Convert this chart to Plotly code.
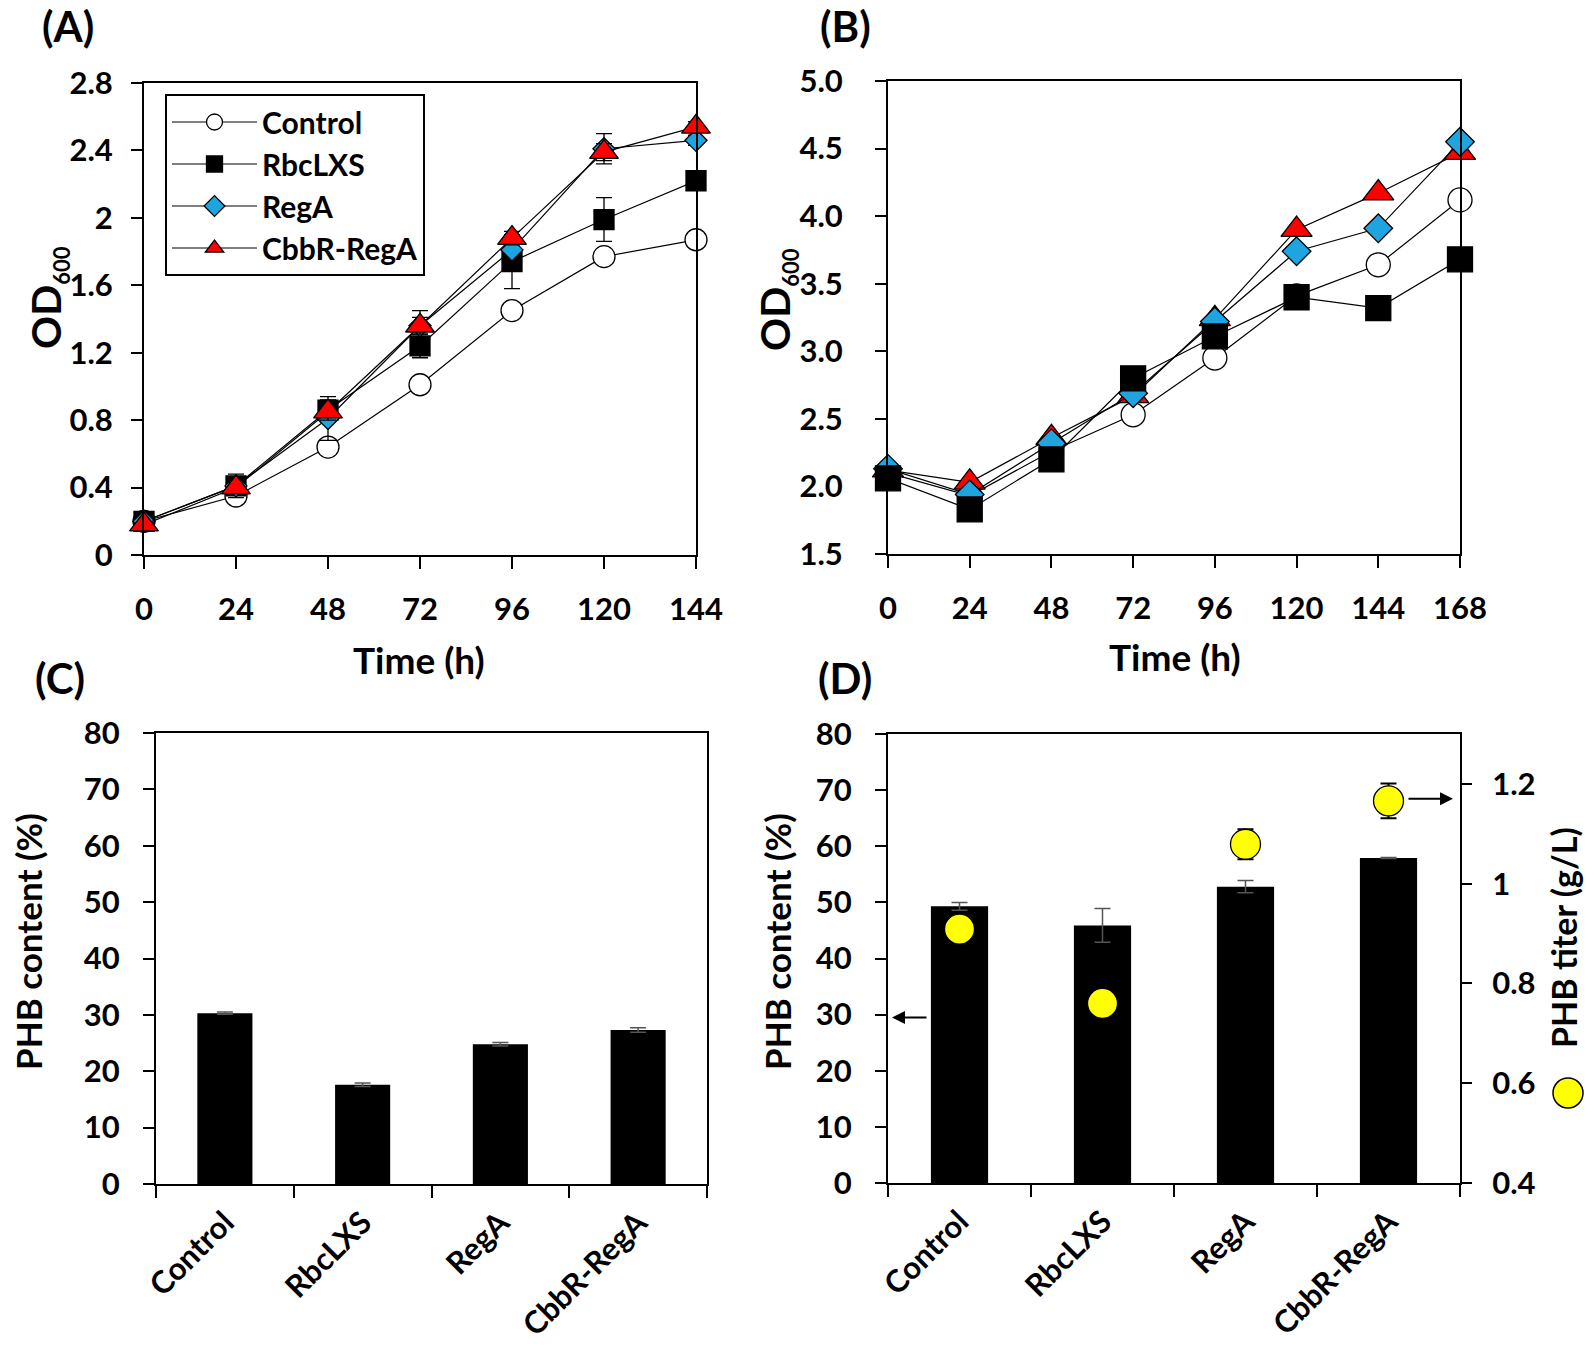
import plotly.graph_objects as go

W, H = 1594, 1364
FONT = "Lato"

# ---------------- data ----------------
time_a = [0, 24, 48, 72, 96, 120, 144]
a_control = [0.20, 0.35, 0.64, 1.01, 1.45, 1.77, 1.87]
a_control_err = [0.01, 0.02, 0.02, 0.02, 0.03, 0.03, 0.02]
a_rbclxs = [0.20, 0.41, 0.86, 1.24, 1.74, 1.99, 2.22]
a_rbclxs_err = [0.01, 0.03, 0.06, 0.07, 0.16, 0.13, 0.03]
a_rega = [0.20, 0.41, 0.81, 1.36, 1.81, 2.41, 2.46]
a_rega_err = [0.01, 0.07, 0.13, 0.09, 0.05, 0.09, 0.03]
a_cbbr = [0.18, 0.40, 0.85, 1.36, 1.88, 2.39, 2.54]
a_cbbr_err = [0.01, 0.03, 0.05, 0.05, 0.04, 0.05, 0.03]

time_b = [0, 24, 48, 72, 96, 120, 144, 168]
b_control = [2.10, 1.93, 2.26, 2.53, 2.95, 3.41, 3.64, 4.12]
b_rbclxs = [2.06, 1.83, 2.20, 2.80, 3.11, 3.40, 3.32, 3.68]
b_rega = [2.13, 1.94, 2.32, 2.69, 3.22, 3.74, 3.91, 4.55]
b_cbbr = [2.12, 2.03, 2.36, 2.67, 3.24, 3.90, 4.17, 4.47]

strains = ["Control", "RbcLXS", "RegA", "CbbR-RegA"]
c_phb = [30.3, 17.6, 24.8, 27.3]
c_phb_err = [0.2, 0.3, 0.3, 0.4]
d_phb = [49.3, 45.9, 52.8, 57.9]
d_phb_err = [0.7, 3.0, 1.1, 0.1]
d_titer = [0.909, 0.760, 1.079, 1.166]
d_titer_err = [0.02, 0.02, 0.03, 0.035]

# ---------------- helpers ----------------
def fx(p):
    return p / W

def fy(p):
    return 1 - p / H

tickfont = dict(family=FONT, size=31, color="black", weight="bold")

def axis(**kw):
    d = dict(showline=True, linecolor="black", linewidth=2, mirror=True,
             ticks="outside", ticklen=11, tickwidth=2, tickcolor="black",
             tickfont=tickfont, showgrid=False, zeroline=False, automargin=False)
    d.update(kw)
    return d

fig = go.Figure()

series_a = [
    ("Control", a_control, a_control_err, "circle", 22, "white"),
    ("RbcLXS", a_rbclxs, a_rbclxs_err, "square", 20, "black"),
    ("RegA", a_rega, a_rega_err, "diamond", 17, "#1ea5e0"),
    ("CbbR-RegA", a_cbbr, a_cbbr_err, "triangle-up", 25, "#ff0000"),
]
for name, ys, err, sym, sz, col in series_a:
    fig.add_trace(go.Scatter(
        x=time_a, y=ys, name=name, mode="lines+markers", cliponaxis=False,
        line=dict(color="black", width=1.2),
        marker=dict(symbol=sym, size=sz, color=col, line=dict(color="black", width=1.3)),
        error_y=dict(type="data", array=err, color="black", thickness=1.3, width=8),
        xaxis="x", yaxis="y", showlegend=True))

series_b = [
    ("Control", b_control, "circle", 24, "white"),
    ("CbbR-RegA", b_cbbr, "triangle-up", 27, "#ff0000"),
    ("RegA", b_rega, "diamond", 22, "#1ea5e0"),
    ("RbcLXS", b_rbclxs, "square", 25, "black"),
]
for name, ys, sym, sz, col in series_b:
    fig.add_trace(go.Scatter(
        x=time_b, y=ys, name=name, mode="lines+markers", cliponaxis=False,
        line=dict(color="black", width=1.2),
        marker=dict(symbol=sym, size=sz, color=col, line=dict(color="black", width=1.3)),
        xaxis="x2", yaxis="y2", showlegend=False))

fig.add_trace(go.Bar(
    x=strains, y=c_phb, width=0.4, marker=dict(color="black", line=dict(width=0)),
    error_y=dict(type="data", array=c_phb_err, color="#555555", thickness=1.5, width=8),
    xaxis="x3", yaxis="y3", showlegend=False))

fig.add_trace(go.Bar(
    x=strains, y=d_phb, width=0.4, marker=dict(color="black", line=dict(width=0)),
    error_y=dict(type="data", array=d_phb_err, color="#555555", thickness=1.5, width=8),
    xaxis="x4", yaxis="y4", showlegend=False))

fig.add_trace(go.Scatter(
    x=strains, y=d_titer, mode="markers", cliponaxis=False,
    marker=dict(symbol="circle", size=30, color="#ffff00", line=dict(color="black", width=1.3)),
    error_y=dict(type="data", array=d_titer_err, color="black", thickness=2, width=8),
    xaxis="x4", yaxis="y5", showlegend=False))

# ---------------- layout ----------------
dom_a_x = [fx(144), fx(696)]
dom_a_y = [fy(555), fy(83)]
dom_b_x = [fx(888), fx(1460)]
dom_b_y = [fy(554), fy(81)]
dom_c_x = [fx(156), fx(707)]
dom_c_y = [fy(1184), fy(733)]
dom_d_x = [fx(888), fx(1460)]
dom_d_y = [fy(1183), fy(734)]

fig.update_layout(
    template="none",
    width=W, height=H, margin=dict(l=0, r=0, t=0, b=0, pad=0, autoexpand=False),
    autosize=False,
    paper_bgcolor="white", plot_bgcolor="white",
    font=dict(family=FONT, color="black", size=30, weight="bold"),
    xaxis=axis(domain=dom_a_x, anchor="y", range=[0, 144], tickvals=time_a,
               ticklen=12, ticklabelstandoff=14),
    yaxis=axis(domain=dom_a_y, anchor="x", range=[0, 2.8], dtick=0.4, tick0=0,
               ticklabelstandoff=12),
    xaxis2=axis(domain=dom_b_x, anchor="y2", range=[0, 168], tickvals=time_b,
                ticklen=12, ticklabelstandoff=14),
    yaxis2=axis(domain=dom_b_y, anchor="x2", range=[1.5, 5.0], dtick=0.5, tick0=1.5,
                tickformat=".1f", ticklabelstandoff=26),
    xaxis3=axis(domain=dom_c_x, anchor="y3", type="category", tickson="boundaries",
                range=[-0.5, 3.5], tickangle=-45, ticklen=12, ticklabelstandoff=6),
    yaxis3=axis(domain=dom_c_y, anchor="x3", range=[0, 80], dtick=10,
                ticklabelstandoff=17),
    xaxis4=axis(domain=dom_d_x, anchor="y4", type="category", tickson="boundaries",
                range=[-0.5, 3.5], tickangle=-45, ticklen=12, ticklabelstandoff=6),
    yaxis4=axis(domain=dom_d_y, anchor="x4", range=[0, 80], dtick=10,
                ticklabelstandoff=17),
    yaxis5=axis(overlaying="y4", anchor="x4", side="right", range=[0.4, 1.3],
                tickvals=[0.4, 0.6, 0.8, 1.0, 1.2],
                ticktext=["0.4", "0.6", "0.8", "1", "1.2"],
                mirror=False, ticklen=10, ticklabelstandoff=14),
    barmode="overlay",
    legend=dict(x=fx(165), y=fy(94), xanchor="left", yanchor="top",
                bordercolor="black", borderwidth=2, bgcolor="white",
                font=dict(family=FONT, size=30, color="black", weight="bold"),
                itemwidth=85, tracegroupgap=0),
)

ann = []
def label(text, x, y, size, angle=0):
    ann.append(dict(text=text, x=fx(x), y=fy(y), xref="paper", yref="paper",
                    xanchor="center", yanchor="middle", showarrow=False,
                    textangle=angle,
                    font=dict(family=FONT, size=size, color="black", weight="bold")))

label("(A)", 68, 26, 42)
label("(B)", 845, 26, 42)
label("(C)", 60, 678, 42)
label("(D)", 845, 678, 42)
label("Time (h)", 419, 659, 37)
label("Time (h)", 1175, 656, 37)
label("OD<sub><span style='font-size:22px'>600</span></sub>", 48, 298, 41, -90)
label("OD<sub><span style='font-size:22px'>600</span></sub>", 777, 300, 41, -90)
label("PHB content (%)", 28, 942, 35, -90)
label("PHB content (%)", 777, 942, 35, -90)
label("PHB titer (g/L)", 1563, 938, 34, -90)
fig.update_layout(annotations=ann)

fig.add_annotation(x=-0.472, y=29.5, xref="x4", yref="y4", ax=36, ay=0,
                   showarrow=True, arrowhead=2, arrowsize=1.3, arrowwidth=2,
                   arrowcolor="black", text="")
fig.add_annotation(x=3.451, y=1.17, xref="x4", yref="y5", ax=-46, ay=0,
                   showarrow=True, arrowhead=2, arrowsize=1.3, arrowwidth=2,
                   arrowcolor="black", text="")

fig.add_shape(type="circle", xref="paper", yref="paper",
              x0=fx(1553), x1=fx(1583), y0=fy(1108), y1=fy(1078),
              fillcolor="#ffff00", line=dict(color="black", width=1.5))

post = """
var de = document.documentElement, bd = document.body;
de.style.margin = '0'; de.style.padding = '0'; de.style.overflow = 'hidden';
bd.style.margin = '0'; bd.style.padding = '0'; bd.style.overflow = 'hidden';
window.scrollTo(0, 0);
"""

fig.write_html("out.html", config={"displayModeBar": False, "responsive": False},
               post_script=post)
